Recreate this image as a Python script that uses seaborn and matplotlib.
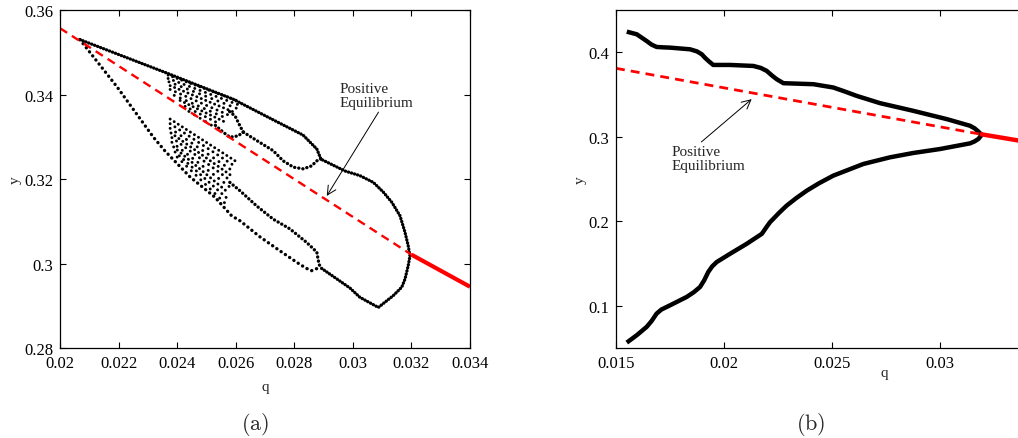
import matplotlib
matplotlib.use('Agg')
import matplotlib.pyplot as plt
import seaborn as sns

# ---------------- panel (a): branches ----------------
eq_dash_q_a = [0.0200, 0.0320]
eq_dash_y_a = [0.3557, 0.3021]
eq_solid_q_a = [0.0320, 0.0340]
eq_solid_y_a = [0.3021, 0.2945]

# outer upper branch, then round the loop near the Hopf point
outer_q = [0.02068, 0.02364, 0.02591, 0.02717, 0.02830, 0.02877, 0.02891, 0.02973,
           0.03024, 0.03070, 0.03104, 0.03133, 0.03161, 0.03178, 0.03189, 0.03195,
           0.03189, 0.03178, 0.03167, 0.03138, 0.03087, 0.03024, 0.02990, 0.02888]
outer_y = [0.3530, 0.3451, 0.3389, 0.3344, 0.3304, 0.3271, 0.3247, 0.3219,
           0.3208, 0.3192, 0.3169, 0.3145, 0.3113, 0.3074, 0.3042, 0.3018,
           0.2995, 0.2963, 0.2944, 0.2924, 0.2896, 0.2920, 0.2942, 0.2991]

# upper bubble after the first period doubling
bubble_q = [0.02891, 0.02877, 0.02859, 0.02831, 0.02797, 0.02762, 0.02728, 0.02672, 0.02626]
bubble_y = [0.3247, 0.3243, 0.3231, 0.3224, 0.3228, 0.3243, 0.3267, 0.3291, 0.3311]
sub_up_q = [0.02626, 0.02615, 0.02598, 0.02575]
sub_up_y = [0.3311, 0.3325, 0.3349, 0.3362]
sub_lo_q = [0.02626, 0.02608, 0.02580, 0.02557, 0.02529]
sub_lo_y = [0.3311, 0.3302, 0.3299, 0.3311, 0.3328]

# lower steep branch, continuing as the lowest line
steep_q = [0.02068, 0.02195, 0.02319, 0.02359, 0.02444, 0.02529, 0.02586, 0.02615,
           0.02683, 0.02751, 0.02808, 0.02840, 0.02859, 0.02888]
steep_y = [0.3530, 0.3418, 0.3299, 0.3266, 0.3205, 0.3157, 0.3113, 0.3101,
           0.3063, 0.3030, 0.3003, 0.2989, 0.2983, 0.2991]

# second lower line
low1_q = [0.02580, 0.02615, 0.02672, 0.02728, 0.02785, 0.02842, 0.02877, 0.02882, 0.02888]
low1_y = [0.3192, 0.3172, 0.3136, 0.3105, 0.3082, 0.3050, 0.3027, 0.3007, 0.2991]

# chaotic clouds: groups of short branches (start q, end q, start y, end y)
cloud_up_q0 = [0.02369, 0.02369, 0.02372, 0.02376, 0.02376, 0.02390, 0.02410, 0.02427, 0.02440]
cloud_up_q1 = [0.02615, 0.02612, 0.02608, 0.02595, 0.02580, 0.02574, 0.02560, 0.02546, 0.02530]
cloud_up_y0 = [0.3446, 0.3438, 0.3430, 0.3421, 0.3412, 0.3398, 0.3386, 0.3372, 0.3360]
cloud_up_y1 = [0.3383, 0.3375, 0.3366, 0.3358, 0.3350, 0.3342, 0.3336, 0.3330, 0.3322]

cloud_lo_q0 = [0.02376, 0.02376, 0.02376, 0.02379, 0.02382, 0.02382, 0.02388, 0.02393, 0.02400]
cloud_lo_q1 = [0.02598, 0.02598, 0.02592, 0.02587, 0.02583, 0.02578, 0.02574, 0.02568, 0.02563]
cloud_lo_y0 = [0.3342, 0.3331, 0.3320, 0.3309, 0.3298, 0.3287, 0.3276, 0.3264, 0.3252]
cloud_lo_y1 = [0.3243, 0.3230, 0.3218, 0.3207, 0.3196, 0.3182, 0.3168, 0.3156, 0.3143]

# ---------------- panel (b) ----------------
eq_dash_q_b = [0.0150, 0.03185]
eq_dash_y_b = [0.3810, 0.3032]
eq_solid_q_b = [0.03185, 0.0350]
eq_solid_y_b = [0.3032, 0.2897]

top_q = [0.01550, 0.01596, 0.01642, 0.01665, 0.01688, 0.01720, 0.01750, 0.01843,
         0.01875, 0.01897, 0.01912, 0.01928, 0.01950, 0.02028, 0.02136, 0.02170,
         0.02198, 0.02222, 0.02244, 0.02275, 0.02414, 0.02506, 0.02560, 0.02614,
         0.02722, 0.02876, 0.03031, 0.03139, 0.03160, 0.03178, 0.03193]
top_y = [0.4244, 0.4213, 0.4133, 0.4090, 0.4063, 0.4058, 0.4055, 0.4035,
         0.4010, 0.3976, 0.3935, 0.3897, 0.3850, 0.3850, 0.3838, 0.3815,
         0.3779, 0.3725, 0.3681, 0.3634, 0.3622, 0.3583, 0.3535, 0.3484,
         0.3398, 0.3307, 0.3209, 0.3130, 0.3100, 0.3060, 0.3024]
bot_q = [0.03193, 0.03178, 0.03160, 0.03139, 0.03000, 0.02876, 0.02769, 0.02645,
         0.02506, 0.02440, 0.02383, 0.02335, 0.02290, 0.02255, 0.02228, 0.02213,
         0.02195, 0.02175, 0.02105, 0.02028, 0.01966, 0.01945, 0.01927, 0.01908,
         0.01889, 0.01860, 0.01827, 0.01750, 0.01710, 0.01688, 0.01665, 0.01642,
         0.01596, 0.01550]
bot_y = [0.3024, 0.2975, 0.2945, 0.2922, 0.2855, 0.2808, 0.2757, 0.2678,
         0.2540, 0.2450, 0.2362, 0.2275, 0.2185, 0.2100, 0.2028, 0.1989,
         0.1925, 0.1851, 0.1733, 0.1615, 0.1517, 0.1465, 0.1399, 0.1300,
         0.1222, 0.1160, 0.1104, 0.1005, 0.0955, 0.0907, 0.0820, 0.0750,
         0.0651, 0.0564]

sns.set_style('ticks')
plt.rcParams['font.family'] = ['Liberation Serif', 'DejaVu Serif']
plt.rcParams['mathtext.fontset'] = 'cm'

fig = plt.figure(figsize=(10.18, 4.39), dpi=100)
ax1 = fig.add_axes([0.0589, 0.2050, 0.4028, 0.7699])
ax2 = fig.add_axes([0.6051, 0.2050, 0.4244, 0.7699])


def dotted(ax, q, y, lw=2.4, gap=1.2):
    sns.lineplot(x=q, y=y, ax=ax, sort=False, estimator=None, color='black',
                 linewidth=lw, linestyle=(0, (0.05, gap)), dash_capstyle='round')


def line(ax, q, y, color, lw, ls='-'):
    sns.lineplot(x=q, y=y, ax=ax, sort=False, estimator=None, color=color,
                 linewidth=lw, linestyle=ls, solid_capstyle='butt',
                 solid_joinstyle='round')


# panel (a)
dotted(ax1, outer_q, outer_y, gap=0.9)
dotted(ax1, bubble_q, bubble_y)
dotted(ax1, sub_up_q, sub_up_y)
dotted(ax1, sub_lo_q, sub_lo_y)
dotted(ax1, steep_q, steep_y, gap=1.5)
dotted(ax1, low1_q, low1_y)
for i in range(len(cloud_up_q0)):
    dotted(ax1, [cloud_up_q0[i], cloud_up_q1[i]], [cloud_up_y0[i], cloud_up_y1[i]],
           lw=2.1, gap=1.6 + 0.3 * (i % 3))
for i in range(len(cloud_lo_q0)):
    dotted(ax1, [cloud_lo_q0[i], cloud_lo_q1[i]], [cloud_lo_y0[i], cloud_lo_y1[i]],
           lw=2.1, gap=1.6 + 0.3 * (i % 3))
line(ax1, eq_dash_q_a, eq_dash_y_a, 'red', 1.7, (0, (3.6, 2.4)))
line(ax1, eq_solid_q_a, eq_solid_y_a, 'red', 3.0)

ax1.annotate('Positive\nEquilibrium', xy=(0.02911, 0.3160), xytext=(0.02956, 0.3430),
             fontsize=11, va='top', ha='left', linespacing=1.1,
             arrowprops=dict(arrowstyle='->', color='black', lw=0.7,
                             shrinkA=0, shrinkB=0, mutation_scale=16,
                             relpos=(0.55, 0.0)))

ax1.set_xlim(0.02, 0.034)
ax1.set_ylim(0.28, 0.36)
ax1.set_xticks([0.02, 0.022, 0.024, 0.026, 0.028, 0.03, 0.032, 0.034])
ax1.set_xticklabels(['0.02', '0.022', '0.024', '0.026', '0.028', '0.03', '0.032', '0.034'])
ax1.set_yticks([0.28, 0.3, 0.32, 0.34, 0.36])
ax1.set_yticklabels(['0.28', '0.3', '0.32', '0.34', '0.36'])
ax1.set_xlabel('q', fontsize=11, va='center')
ax1.set_ylabel('y', fontsize=11, va='center')
ax1.xaxis.set_label_coords(0.5, -0.115)
ax1.yaxis.set_label_coords(-0.110, 0.5)

# panel (b)
line(ax2, top_q, top_y, 'black', 3.2)
line(ax2, bot_q, bot_y, 'black', 3.2)
line(ax2, eq_dash_q_b, eq_dash_y_b, 'red', 2.0, (0, (3.2, 2.2)))
line(ax2, eq_solid_q_b, eq_solid_y_b, 'red', 3.2)

ax2.annotate('Positive\nEquilibrium', xy=(0.02128, 0.3445), xytext=(0.01758, 0.2900),
             fontsize=11, va='top', ha='left', linespacing=1.1,
             arrowprops=dict(arrowstyle='->', color='black', lw=0.7,
                             shrinkA=0, shrinkB=0, mutation_scale=16,
                             relpos=(0.35, 1.0)))

ax2.set_xlim(0.015, 0.035)
ax2.set_ylim(0.05, 0.45)
ax2.set_xticks([0.015, 0.02, 0.025, 0.03])
ax2.set_xticklabels(['0.015', '0.02', '0.025', '0.03'])
ax2.set_yticks([0.1, 0.2, 0.3, 0.4])
ax2.set_yticklabels(['0.1', '0.2', '0.3', '0.4'])
ax2.set_xlabel('q', fontsize=11, va='center')
ax2.set_ylabel('y', fontsize=11, va='center')
ax2.xaxis.set_label_coords(0.620, -0.071)
ax2.yaxis.set_label_coords(-0.083, 0.5)

for ax in (ax1, ax2):
    ax.tick_params(direction='in', top=True, right=True, length=4, width=0.8,
                   labelsize=12, pad=5, colors='black')
    for s in ax.spines.values():
        s.set_linewidth(0.9)
        s.set_color('black')

fig.text(0.2505, 0.034, r'$(\mathrm{a})$', fontsize=16, ha='center', va='center')
fig.text(0.7967, 0.034, r'$(\mathrm{b})$', fontsize=16, ha='center', va='center')

fig.savefig('out.png', dpi=100)
